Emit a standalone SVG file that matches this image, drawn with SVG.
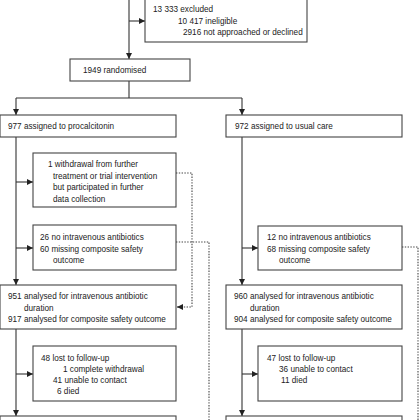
<svg xmlns="http://www.w3.org/2000/svg" width="420" height="420" viewBox="0 0 420 420">
<defs>
<style>
.box{fill:#fff;stroke:#444;stroke-width:1.1}
.ln{fill:none;stroke:#333;stroke-width:1.1}
.dot{fill:none;stroke:#444;stroke-width:1.1;stroke-dasharray:1.4 1.4}
text{font-family:"Liberation Sans",Arial,sans-serif;font-size:8.2px;fill:#222}
</style>
<marker id="ah" viewBox="0 0 6 6" refX="6" refY="3" markerWidth="6" markerHeight="6" markerUnits="userSpaceOnUse" orient="auto">
<path d="M0,0L6,3L0,6z" fill="#222"/>
</marker>
</defs>
<rect width="420" height="420" fill="#fff"/>
<g id="connectors">
<path class="ln" d="M129,0V59" marker-end="url(#ah)"/>
<path class="ln" d="M129,21H145" marker-end="url(#ah)"/>
<path class="ln" d="M129,81V98M16,98H242"/>
<path class="ln" d="M16,98V115" marker-end="url(#ah)"/>
<path class="ln" d="M242,98V115" marker-end="url(#ah)"/>
<path class="ln" d="M16,137V285" marker-end="url(#ah)"/>
<path class="ln" d="M16,182H33" marker-end="url(#ah)"/>
<path class="ln" d="M16,248H33" marker-end="url(#ah)"/>
<path class="ln" d="M16,329V416" marker-end="url(#ah)"/>
<path class="ln" d="M16,374H33" marker-end="url(#ah)"/>
<path class="ln" d="M242,137V285" marker-end="url(#ah)"/>
<path class="ln" d="M242,248H258" marker-end="url(#ah)"/>
<path class="ln" d="M242,329V416" marker-end="url(#ah)"/>
<path class="ln" d="M242,374H258" marker-end="url(#ah)"/>
<path class="dot" d="M176,173H192V307H182"/>
<path class="ln" d="M183,307H177" marker-end="url(#ah)"/>
<path class="dot" d="M176,242H209V420"/>
<path class="dot" d="M402,247H418V420"/>
</g>
<g id="excluded">
<rect class="box" x="145" y="-2" width="162" height="44"/>
<text x="153" y="12">13 333 excluded</text>
<text x="178" y="23.5">10 417 ineligible</text>
<text x="183" y="35">2916 not approached or declined</text>
</g>
<g id="randomised">
<rect class="box" x="70" y="59" width="120" height="22"/>
<text x="83" y="73">1949 randomised</text>
</g>
<g id="procalcitonin">
<rect class="box" x="0" y="115" width="176" height="22"/>
<text x="8" y="129">977 assigned to procalcitonin</text>
</g>
<g id="usualcare">
<rect class="box" x="226" y="115" width="176" height="22"/>
<text x="235" y="129">972 assigned to usual care</text>
</g>
<g id="withdrawal">
<rect class="box" x="33" y="153" width="143" height="54"/>
<text x="48" y="167">1 withdrawal from further</text>
<text x="53" y="178.5">treatment or trial intervention</text>
<text x="53" y="190">but participated in further</text>
<text x="53" y="201.5">data collection</text>
</g>
<g id="leftmissing">
<rect class="box" x="33" y="225" width="143" height="45"/>
<text x="40" y="240">26 no intravenous antibiotics</text>
<text x="40" y="251.5">60 missing composite safety</text>
<text x="53" y="263">outcome</text>
</g>
<g id="rightmissing">
<rect class="box" x="258" y="226" width="144" height="44"/>
<text x="267" y="240">12 no intravenous antibiotics</text>
<text x="267" y="251.5">68 missing composite safety</text>
<text x="279" y="263">outcome</text>
</g>
<g id="leftanalysed">
<rect class="box" x="0" y="285" width="176" height="44"/>
<text x="8" y="299">951 analysed for intravenous antibiotic</text>
<text x="24" y="310.5">duration</text>
<text x="8" y="322">917 analysed for composite safety outcome</text>
</g>
<g id="rightanalysed">
<rect class="box" x="226" y="285" width="176" height="44"/>
<text x="234" y="299">960 analysed for intravenous antibiotic</text>
<text x="250" y="310.5">duration</text>
<text x="234" y="322">904 analysed for composite safety outcome</text>
</g>
<g id="leftlost">
<rect class="box" x="33" y="346" width="143" height="55"/>
<text x="41" y="361">48 lost to follow-up</text>
<text x="63" y="372">1 complete withdrawal</text>
<text x="53" y="383">41 unable to contact</text>
<text x="57" y="394">6 died</text>
</g>
<g id="rightlost">
<rect class="box" x="258" y="346" width="144" height="55"/>
<text x="267" y="361">47 lost to follow-up</text>
<text x="279" y="372">36 unable to contact</text>
<text x="281" y="383">11 died</text>
</g>
<g id="leftfinal">
<rect class="box" x="0" y="416" width="176" height="20"/>
</g>
<g id="rightfinal">
<rect class="box" x="226" y="416" width="176" height="20"/>
</g>
</svg>
